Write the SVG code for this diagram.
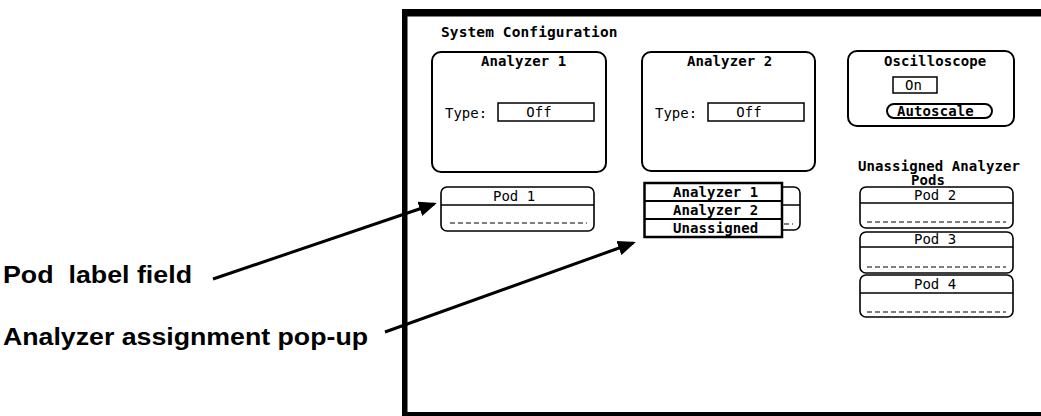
<svg xmlns="http://www.w3.org/2000/svg" width="1041" height="416" viewBox="0 0 1041 416">
<style>
.t{font-family:"DejaVu Sans Mono","Liberation Mono",monospace;font-size:14px;fill:#000}
.b{font-weight:bold;letter-spacing:0.1px}
.r{letter-spacing:0px}
.box{fill:#fff;stroke:#000;stroke-width:2}
.pod{fill:#fff;stroke:#000;stroke-width:1.6}
.fld{fill:#fff;stroke:#000;stroke-width:1.5}
.sep{stroke:#000;stroke-width:1.5}
.dash{stroke:#000;stroke-width:1.2;stroke-dasharray:5 3}
.lbl{font-family:"Liberation Sans",Arial,sans-serif;font-weight:bold;font-size:23px;fill:#000}
.arr{stroke:#000;stroke-width:3;fill:none;marker-end:url(#ah)}
</style>
<defs>
<marker id="ah" markerWidth="6" markerHeight="5" refX="5" refY="2.5" orient="auto" markerUnits="strokeWidth">
<path d="M0,0 L6,2.5 L0,5 Z" fill="#000"/>
</marker>
</defs>
<rect width="1041" height="416" fill="#fff"/>
<g id="frame">
<rect x="402" y="9" width="639" height="7.5" fill="#000"/>
<rect x="402" y="9" width="5.5" height="407" fill="#000"/>
<rect x="402" y="412" width="639" height="4" fill="#000"/>
<text class="t b" x="441" y="37" style="font-size:14.5px">System Configuration</text>
</g>
<g id="analyzer1">
<rect class="box" x="432" y="52" width="174" height="120" rx="9"/>
<text class="t b" x="481" y="66">Analyzer 1</text>
<text class="t r" x="445" y="118">Type:</text>
<rect class="fld" x="498" y="103" width="96" height="18"/>
<text class="t r" x="539" y="117" text-anchor="middle">Off</text>
</g>
<g id="analyzer2">
<rect class="box" x="642" y="52" width="173" height="119" rx="9"/>
<text class="t b" x="687" y="66">Analyzer 2</text>
<text class="t r" x="655" y="118">Type:</text>
<rect class="fld" x="708" y="103" width="96" height="18"/>
<text class="t r" x="749" y="117" text-anchor="middle">Off</text>
</g>
<g id="oscilloscope">
<rect class="box" x="848" y="51" width="166" height="75" rx="9"/>
<text class="t b" x="884" y="66">Oscilloscope</text>
<rect class="fld" x="893" y="77" width="44" height="16"/>
<text class="t r" x="905" y="89.5">On</text>
<rect class="fld" x="887" y="104" width="105" height="14" rx="7" style="stroke-width:2"/>
<text class="t b" x="897" y="116">Autoscale</text>
</g>
<g id="pod1">
<rect class="pod" x="441" y="187" width="153" height="44" rx="6"/>
<line class="sep" x1="441" y1="205" x2="594" y2="205"/>
<line class="dash" x1="450" y1="223" x2="587" y2="223"/>
<text class="t r" x="493" y="201">Pod 1</text>
</g>
<g id="pod-behind-popup">
<rect class="pod" x="647" y="187" width="153" height="43" rx="6"/>
<line class="sep" x1="647" y1="205" x2="800" y2="205"/>
<line class="dash" x1="656" y1="224" x2="793" y2="224"/>
</g>
<g id="popup">
<rect x="644.5" y="183" width="137.5" height="54" fill="#fff" stroke="#000" stroke-width="2.5"/>
<line x1="644.5" y1="201" x2="782" y2="201" stroke="#000" stroke-width="2"/>
<line x1="644.5" y1="219" x2="782" y2="219" stroke="#000" stroke-width="2"/>
<text class="t b" x="673" y="197">Analyzer 1</text>
<text class="t b" x="673" y="215">Analyzer 2</text>
<text class="t b" x="673" y="233">Unassigned</text>
</g>
<g id="unassigned-title">
<text class="t b" x="858" y="171">Unassigned Analyzer</text>
<text class="t b" x="911" y="185">Pods</text>
</g>
<g id="pod2">
<rect class="pod" x="860" y="187" width="153" height="41" rx="6"/>
<line class="sep" x1="860" y1="203" x2="1013" y2="203"/>
<line class="dash" x1="867" y1="222" x2="1006" y2="222"/>
<text class="t r" x="914" y="200">Pod 2</text>
</g>
<g id="pod3">
<rect class="pod" x="860" y="232" width="153" height="41" rx="6"/>
<line class="sep" x1="860" y1="247" x2="1013" y2="247"/>
<line class="dash" x1="867" y1="267" x2="1006" y2="267"/>
<text class="t r" x="914" y="244">Pod 3</text>
</g>
<g id="pod4">
<rect class="pod" x="860" y="275" width="153" height="42" rx="6"/>
<line class="sep" x1="860" y1="293" x2="1013" y2="293"/>
<line class="dash" x1="867" y1="312" x2="1006" y2="312"/>
<text class="t r" x="914" y="289">Pod 4</text>
</g>
<g id="labels">
<text class="lbl" x="3" y="283" textLength="189" lengthAdjust="spacingAndGlyphs">Pod&#160; label field</text>
<text class="lbl" x="3" y="345" textLength="365" lengthAdjust="spacingAndGlyphs">Analyzer assignment pop-up</text>
</g>
<g id="connectors">
<line class="arr" x1="213" y1="279" x2="434" y2="204"/>
<line class="arr" x1="385" y1="332" x2="633" y2="243"/>
</g>
</svg>
